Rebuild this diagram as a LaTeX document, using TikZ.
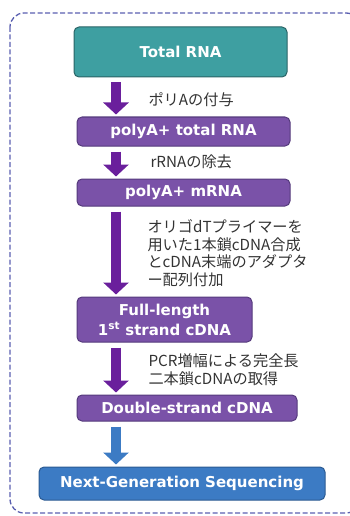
\documentclass[tikz,border=0pt]{standalone}
\usepackage{fontspec}
\setsansfont{DejaVu Sans}
\newfontfamily\jpfont{Noto Sans CJK JP}
\usetikzlibrary{arrows.meta}
\definecolor{tealbox}{HTML}{3E9FA1}
\definecolor{tealline}{HTML}{2A6466}
\definecolor{purpbox}{HTML}{7A52A8}
\definecolor{purpline}{HTML}{553A7C}
\definecolor{purparrow}{HTML}{6A1F9C}
\definecolor{bluebox}{HTML}{3C7BC4}
\definecolor{blueline}{HTML}{2B5A92}
\definecolor{framecol}{HTML}{5A5FB0}
\definecolor{notecol}{HTML}{333333}

\begin{document}
\begin{tikzpicture}[x=1pt, y=-1pt, >=Latex,
  box/.style={draw, line width=1pt, rounded corners=5pt, text=white, align=center, inner sep=0pt,
    font=\sffamily\bfseries\fontsize{15}{20}\selectfont},
  down/.style={line width=10pt, -{Triangle[width=25pt,length=12pt]}, shorten <=5pt, shorten >=2pt},
  note/.style={anchor=west, align=left, text=notecol, font=\jpfont\fontsize{15.2}{17.6}\selectfont}]
\useasboundingbox (0,0) rectangle (349,516);

% Dashed frame
\draw[framecol, line width=1.3pt, dash pattern=on 5pt off 2.5pt, rounded corners=14pt] (10,13) rectangle (360,513);

% Steps
\node[box, fill=tealbox, draw=tealline, minimum width=213pt, minimum height=50pt] (total) at (180.5,52) {Total RNA};
\node[box, fill=purpbox, draw=purpline, minimum width=213pt, minimum height=29pt] (ptot) at (183.5,131.5) {polyA+ total RNA};
\node[box, fill=purpbox, draw=purpline, minimum width=213pt, minimum height=27pt] (pmrna) at (183.5,192.5) {polyA+ mRNA};
\node[box, fill=purpbox, draw=purpline, minimum width=175pt, minimum height=45pt] (full) at (164.5,319.5) {Full-length\\1\textsuperscript{st} strand cDNA};
\node[box, fill=purpbox, draw=purpline, minimum width=220pt, minimum height=26pt] (dscdna) at (187,408) {Double-strand cDNA};
\node[box, fill=bluebox, draw=blueline, minimum width=286pt, minimum height=33pt] (ngs) at (182,483.5) {Next-Generation Sequencing};

% Arrows
\coordinate (ax) at (116,0);
\draw[down, purparrow] (total.south -| ax) -- (ptot.north -| ax);
\draw[down, purparrow] (ptot.south -| ax) -- (pmrna.north -| ax);
\draw[down, purparrow] (pmrna.south -| ax) -- (full.north -| ax);
\draw[down, purparrow] (full.south -| ax) -- (dscdna.north -| ax);
\draw[down, bluebox] (dscdna.south -| ax) -- (ngs.north -| ax);

% Notes
\node[note] (n1) at (145,100) {ポリAの付与};
\node[note] (n2) at (147,162) {rRNAの除去};
\node[note] (n3) at (144,253) {オリゴdTプライマーを\\用いた1本鎖cDNA合成\\とcDNA末端のアダプタ\\ー配列付加};
\node[note] (n4) at (145,370) {PCR増幅による完全長\\二本鎖cDNAの取得};
\end{tikzpicture}
\end{document}
